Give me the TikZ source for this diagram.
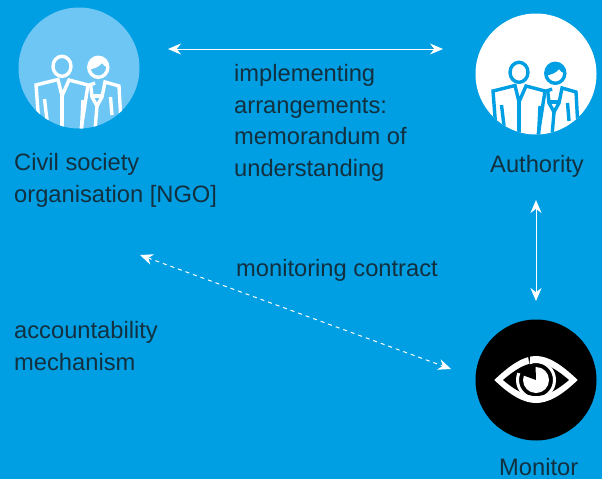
\documentclass[tikz,border=0pt]{standalone}
\usepackage{fontspec}
\setmainfont{Liberation Sans}
\usepackage{tikz}
\usetikzlibrary{arrows.meta}
\usetikzlibrary{positioning}
\definecolor{bgblue}{HTML}{009FE3}
\definecolor{lightblue}{HTML}{6EC6F5}
\definecolor{labeltext}{HTML}{12303F}
\tikzstyle{actor} = [circle, inner sep=0pt, minimum size=121pt]
\tikzstyle{label} = [inner sep=0pt, anchor=north west, align=left, text=labeltext, font=\fontsize{23.7}{31.7}\selectfont]
\tikzstyle{line} = [draw=white, line width=1pt, {Stealth[length=13pt,width=11pt]}-{Stealth[length=13pt,width=11pt]}]
\tikzstyle{iconline} = [line width=3.4pt, line join=miter]
% two people, drawn round the centre of a circle of radius 60.5
\newcommand{\peopleicon}[1]{
	\draw [iconline, #1] (-17,-1.7) ellipse (9 and 10);
	\draw [iconline, #1] (19.3,-0.7) ellipse (9.5 and 10);
	\fill [#1] (9.5,1.5) .. controls (9,-8) and (14,-11.5) .. (19.3,-11.5) .. controls (25,-11.5) and (29.5,-6) .. (29.5,-1) .. controls (26,-1) and (24,-3) .. (23,-5) .. controls (20,-1) and (15,1) .. (9.5,1.5) -- cycle;
	\draw [iconline, #1] (-40,56) -- (-43,17) -- (-21,11.5) -- (-17,28) -- (-10,12) -- (9,17) -- (2,62);
	\draw [iconline, #1] (-17,28) -- (-17,62);
	\draw [iconline, #1] (-34.5,31) -- (-32,52);
	\draw [iconline, #1] (4,32) -- (2.5,62);
	\draw [iconline, #1] (11,17) -- (16,15);
	\draw [iconline, #1] (11.5,15) -- (13,29) -- (18,38) -- (23,29) -- (26,14) -- (40,18) -- (41.5,45);
	\draw [iconline, #1] (13,28) -- (23,28);
	\draw [iconline, #1] (18,38) -- (16,62);
	\draw [iconline, #1] (31.5,29) -- (33,47);
}
\begin{document}
\begin{tikzpicture}[x=1pt,y=-1pt]
	\useasboundingbox (0,0) rectangle (602,479);
	\fill [bgblue] (0,0) rectangle (602,479);
	\node [actor, fill=lightblue] at (79,68) (ngo) {};
	\node [actor, fill=white] at (536,74) (authority) {};
	\node [actor, fill=black] at (536,380) (monitor) {};
	\begin{scope}[shift={(ngo.center)}]
		\clip (0,0) circle (60.5);
		\peopleicon{white}
	\end{scope}
	\begin{scope}[shift={(authority.center)}]
		\clip (0,0) circle (60.5);
		\peopleicon{bgblue}
	\end{scope}
	% eye
	\begin{scope}[shift={(monitor.center)}]
		\fill [white] (-41.7,0) .. controls (-25,-16) and (-12,-24) .. (0,-24) .. controls (12,-24) and (25,-16) .. (41.7,0) .. controls (25,16) and (12,23) .. (0,23) .. controls (-12,23) and (-25,16) .. (-41.7,0) -- cycle;
		\fill [black] (-33,0) .. controls (-20,-11) and (-10,-17) .. (0,-17) .. controls (10,-17) and (20,-11) .. (33,0) .. controls (20,11) and (10,16) .. (0,16) .. controls (-10,16) and (-20,11) .. (-33,0) -- cycle;
		\draw [white, line width=3pt] (-112:18.5) arc (-112:202:18.5);
		\fill [white] (0,0) circle (13);
		\fill [black] (0,0) -- (200:14.5) arc (200:268:14.5) -- cycle;
		\fill [black] (-8,-24) -- (-6.5,-15) -- (-6,-24) -- cycle;
	\end{scope}
	\node [label] at (14,153) (ngolabel) {Civil society\\organisation [NGO]};
	\node [label] at (490,155) (authoritylabel) {Authority};
	\node [label] at (499,458) (monitorlabel) {Monitor};
	\node [label] at (234,64) (arrangements) {implementing\\arrangements:\\memorandum of\\understanding};
	\node [label] at (236,259) (contract) {monitoring contract};
	\node [label] at (14,321) (mechanism) {accountability\\mechanism};
	\coordinate (ngoend) at (168,49);
	\coordinate (authorityend) at (443,49);
	\coordinate (dashstart) at (140,255);
	\coordinate (dashend) at (451,369);
	\coordinate (authoritydown) at (536,200);
	\coordinate (monitorup) at (536,301);
	\path [line] (ngoend) -- (authorityend);
	\path [line] (authoritydown) -- (monitorup);
	\path [line, dash pattern=on 4pt off 4pt] (dashstart) -- (dashend);
\end{tikzpicture}
\end{document}
